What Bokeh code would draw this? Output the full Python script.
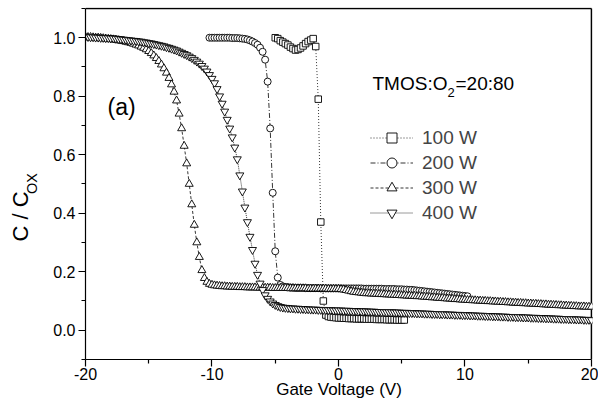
from bokeh.plotting import figure
from bokeh.models import (Range1d, Label, Legend, LegendItem, FixedTicker,
                          PrintfTickFormatter, Title)
from bokeh.embed import file_html
from bokeh.resources import INLINE

FONT = "Liberation Sans"

# ---------------- data ----------------
v_full = [
    -20.0, -19.8, -19.6, -19.4, -19.2, -19.0, -18.8, -18.6, -18.4, -18.2,
    -18.0, -17.8, -17.6, -17.4, -17.2, -17.0, -16.8, -16.6, -16.4, -16.2,
    -16.0, -15.8, -15.6, -15.4, -15.2, -15.0, -14.8, -14.6, -14.4, -14.2,
    -14.0, -13.8, -13.6, -13.4, -13.2, -13.0, -12.8, -12.6, -12.4, -12.2,
    -12.0, -11.8, -11.6, -11.4, -11.2, -11.0, -10.8, -10.6, -10.4, -10.2,
    -10.0, -9.8, -9.6, -9.4, -9.2, -9.0, -8.8, -8.6, -8.4, -8.2,
    -8.0, -7.8, -7.6, -7.4, -7.2, -7.0, -6.8, -6.6, -6.4, -6.2,
    -6.0, -5.8, -5.6, -5.4, -5.2, -5.0, -4.8, -4.6, -4.4, -4.2,
    -4.0, -3.8, -3.6, -3.4, -3.2, -3.0, -2.8, -2.6, -2.4, -2.2,
    -2.0, -1.8, -1.6, -1.4, -1.2, -1.0, -0.8, -0.6, -0.4, -0.2,
    0.0, 0.2, 0.4, 0.6, 0.8, 1.0, 1.2, 1.4, 1.6, 1.8,
    2.0, 2.2, 2.4, 2.6, 2.8, 3.0, 3.2, 3.4, 3.6, 3.8,
    4.0, 4.2, 4.4, 4.6, 4.8, 5.0, 5.2, 5.4, 5.6, 5.8,
    6.0, 6.2, 6.4, 6.6, 6.8, 7.0, 7.2, 7.4, 7.6, 7.8,
    8.0, 8.2, 8.4, 8.6, 8.8, 9.0, 9.2, 9.4, 9.6, 9.8,
    10.0, 10.2, 10.4, 10.6, 10.8, 11.0, 11.2, 11.4, 11.6, 11.8,
    12.0, 12.2, 12.4, 12.6, 12.8, 13.0, 13.2, 13.4, 13.6, 13.8,
    14.0, 14.2, 14.4, 14.6, 14.8, 15.0, 15.2, 15.4, 15.6, 15.8,
    16.0, 16.2, 16.4, 16.6, 16.8, 17.0, 17.2, 17.4, 17.6, 17.8,
    18.0, 18.2, 18.4, 18.6, 18.8, 19.0, 19.2, 19.4, 19.6, 19.8,
    20.0,
]

c_300w = [
    1.003, 1.002, 1.002, 1.001, 1.000, 1.000, 0.999, 0.998, 0.997, 0.996,
    0.995, 0.994, 0.993, 0.991, 0.990, 0.988, 0.986, 0.984, 0.982, 0.979,
    0.976, 0.973, 0.969, 0.965, 0.960, 0.954, 0.947, 0.939, 0.930, 0.920,
    0.908, 0.895, 0.880, 0.862, 0.840, 0.815, 0.785, 0.740, 0.690, 0.630,
    0.570, 0.500, 0.430, 0.360, 0.300, 0.250, 0.205, 0.178, 0.165, 0.158,
    0.155, 0.153, 0.152, 0.151, 0.150, 0.150, 0.149, 0.149, 0.148, 0.148,
    0.148, 0.147, 0.147, 0.147, 0.146, 0.146, 0.146, 0.146, 0.145, 0.145,
    0.145, 0.145, 0.145, 0.145, 0.144, 0.144, 0.144, 0.144, 0.144, 0.144,
    0.144, 0.143, 0.143, 0.143, 0.143, 0.143, 0.143, 0.143, 0.142, 0.142,
    0.142, 0.142, 0.142, 0.142, 0.142, 0.142, 0.141, 0.141, 0.141, 0.141,
    0.141, 0.140, 0.139, 0.137, 0.135, 0.133, 0.131, 0.130, 0.129, 0.128,
    0.127, 0.126, 0.126, 0.125, 0.125, 0.124, 0.124, 0.123, 0.123, 0.122,
    0.122, 0.121, 0.121, 0.120, 0.120, 0.119, 0.119, 0.118, 0.118, 0.117,
    0.117, 0.116, 0.116, 0.115, 0.114, 0.114, 0.113, 0.112, 0.112, 0.111,
    0.110, 0.110, 0.109, 0.108, 0.108, 0.107, 0.106, 0.106, 0.105, 0.104,
    0.104, 0.103, 0.103, 0.102, 0.102, 0.101, 0.101, 0.100, 0.100, 0.099,
    0.099, 0.098, 0.098, 0.097, 0.097, 0.096, 0.096, 0.095, 0.095, 0.094,
    0.094, 0.093, 0.093, 0.092, 0.092, 0.091, 0.091, 0.090, 0.090, 0.089,
    0.089, 0.088, 0.088, 0.087, 0.087, 0.086, 0.086, 0.085, 0.085, 0.084,
    0.084, 0.083, 0.083, 0.082, 0.082, 0.081, 0.081, 0.081, 0.080, 0.080,
    0.080,
]

c_400w = [
    1.003, 1.003, 1.002, 1.002, 1.001, 1.001, 1.000, 1.000, 0.999, 0.999,
    0.998, 0.998, 0.997, 0.996, 0.995, 0.994, 0.993, 0.992, 0.991, 0.990,
    0.989, 0.988, 0.987, 0.985, 0.984, 0.982, 0.981, 0.979, 0.977, 0.975,
    0.973, 0.971, 0.968, 0.966, 0.963, 0.960, 0.957, 0.953, 0.949, 0.945,
    0.941, 0.936, 0.931, 0.925, 0.919, 0.912, 0.904, 0.895, 0.885, 0.873,
    0.860, 0.845, 0.825, 0.800, 0.775, 0.748, 0.720, 0.690, 0.660, 0.625,
    0.585, 0.530, 0.475, 0.420, 0.370, 0.320, 0.275, 0.228, 0.190, 0.160,
    0.138, 0.120, 0.108, 0.099, 0.092, 0.087, 0.083, 0.080, 0.078, 0.077,
    0.076, 0.075, 0.075, 0.074, 0.074, 0.073, 0.073, 0.072, 0.072, 0.071,
    0.071, 0.071, 0.070, 0.070, 0.070, 0.069, 0.069, 0.069, 0.068, 0.068,
    0.068, 0.068, 0.067, 0.067, 0.067, 0.066, 0.066, 0.066, 0.065, 0.065,
    0.065, 0.065, 0.064, 0.064, 0.064, 0.063, 0.063, 0.063, 0.062, 0.062,
    0.062, 0.062, 0.061, 0.061, 0.061, 0.060, 0.060, 0.060, 0.059, 0.059,
    0.059, 0.058, 0.058, 0.058, 0.057, 0.057, 0.057, 0.056, 0.056, 0.056,
    0.055, 0.055, 0.055, 0.054, 0.054, 0.054, 0.053, 0.053, 0.053, 0.052,
    0.052, 0.052, 0.051, 0.051, 0.051, 0.050, 0.050, 0.050, 0.049, 0.049,
    0.049, 0.048, 0.048, 0.048, 0.047, 0.047, 0.047, 0.046, 0.046, 0.046,
    0.045, 0.045, 0.045, 0.044, 0.044, 0.044, 0.043, 0.043, 0.043, 0.042,
    0.042, 0.042, 0.041, 0.041, 0.041, 0.040, 0.040, 0.040, 0.039, 0.039,
    0.039, 0.038, 0.038, 0.038, 0.037, 0.037, 0.037, 0.036, 0.036, 0.036,
    0.035,
]

v_200 = [
    -10.2, -10.0, -9.8, -9.6, -9.4, -9.2, -9.0, -8.8, -8.6, -8.4,
    -8.2, -8.0, -7.8, -7.6, -7.4, -7.2, -7.0, -6.8, -6.6, -6.4,
    -6.2, -6.0, -5.8, -5.6, -5.4, -5.2, -5.0, -4.8, -4.6, -4.4,
    -4.2, -4.0, -3.8, -3.6, -3.4, -3.2, -3.0, -2.8, -2.6, -2.4,
    -2.2, -2.0, -1.8, -1.6, -1.4, -1.2, -1.0, -0.8, -0.6, -0.4,
    -0.2, 0.0, 0.2, 0.4, 0.6, 0.8, 1.0, 1.2, 1.4, 1.6,
    1.8, 2.0, 2.2, 2.4, 2.6, 2.8, 3.0, 3.2, 3.4, 3.6,
    3.8, 4.0, 4.2, 4.4, 4.6, 4.8, 5.0, 5.2, 5.4, 5.6,
    5.8, 6.0, 6.2, 6.4, 6.6, 6.8, 7.0, 7.2, 7.4, 7.6,
    7.8, 8.0, 8.2, 8.4, 8.6, 8.8, 9.0, 9.2, 9.4, 9.6,
    9.8, 10.0, 10.2,
]

c_200w = [
    1.000, 1.000, 1.000, 1.000, 1.000, 1.000, 1.000, 1.000, 1.000, 0.999,
    0.999, 0.999, 0.998, 0.997, 0.996, 0.994, 0.991, 0.987, 0.982, 0.976,
    0.966, 0.952, 0.925, 0.850, 0.690, 0.470, 0.270, 0.180, 0.155, 0.150,
    0.148, 0.147, 0.146, 0.146, 0.145, 0.145, 0.145, 0.145, 0.144, 0.144,
    0.144, 0.144, 0.144, 0.144, 0.143, 0.143, 0.143, 0.143, 0.143, 0.143,
    0.143, 0.143, 0.143, 0.143, 0.143, 0.143, 0.143, 0.143, 0.143, 0.143,
    0.143, 0.142, 0.142, 0.142, 0.142, 0.142, 0.142, 0.142, 0.142, 0.141,
    0.141, 0.141, 0.141, 0.141, 0.140, 0.140, 0.140, 0.139, 0.139, 0.138,
    0.138, 0.137, 0.136, 0.135, 0.134, 0.133, 0.132, 0.131, 0.130, 0.129,
    0.128, 0.127, 0.126, 0.125, 0.124, 0.123, 0.122, 0.121, 0.120, 0.119,
    0.118, 0.117, 0.116,
]

v_100 = [
    -5.0, -4.8, -4.6, -4.4, -4.2, -4.0, -3.8, -3.6, -3.4, -3.2,
    -3.0, -2.8, -2.6, -2.4, -2.2, -2.0, -1.8, -1.6, -1.4, -1.2,
    -1.0, -0.8, -0.6, -0.4, -0.2, 0.0, 0.2, 0.4, 0.6, 0.8,
    1.0, 1.2, 1.4, 1.6, 1.8, 2.0, 2.2, 2.4, 2.6, 2.8,
    3.0, 3.2, 3.4, 3.6, 3.8, 4.0, 4.2, 4.4, 4.6, 4.8,
    5.0, 5.2,
]

c_100w = [
    1.000, 0.997, 0.990, 0.985, 0.980, 0.975, 0.968, 0.963, 0.958, 0.960,
    0.965, 0.972, 0.980, 0.987, 0.992, 0.997, 0.970, 0.790, 0.370, 0.100,
    0.052, 0.047, 0.045, 0.044, 0.043, 0.042, 0.042, 0.041, 0.041, 0.040,
    0.040, 0.040, 0.039, 0.039, 0.039, 0.039, 0.038, 0.038, 0.038, 0.038,
    0.037, 0.037, 0.037, 0.037, 0.036, 0.036, 0.036, 0.036, 0.035, 0.035,
    0.035, 0.035,
]

x_ticks = [-20, -10, 0, 10, 20]
x_minor = [-15, -5, 5, 15]
y_ticks = [0.0, 0.2, 0.4, 0.6, 0.8, 1.0]
y_minor = [-0.1, 0.1, 0.3, 0.5, 0.7, 0.9, 1.1]
x_lo, x_hi = -20, 20
y_lo, y_hi = -0.1, 1.1

series = [
    ("100 W", v_100, c_100w, "square", 6.5, "1 2"),
    ("200 W", v_200, c_200w, "circle", 7, "5 2 1 2"),
    ("300 W", v_full, c_300w, "triangle", 8, "3 2"),
    ("400 W", v_full, c_400w, "inverted_triangle", 8, "1 1"),
]

# ---------------- figure ----------------
# ranges reach one pixel past the box edges so the box lines at 20 V and 1.1 stay inside the frame
p = figure(width=598, height=401, output_backend="svg", toolbar_location=None,
           x_range=Range1d(x_lo, x_hi + 0.08), y_range=Range1d(y_lo, y_hi + 0.0034),
           min_border_left=85, min_border_right=6, min_border_top=7, min_border_bottom=41)
p.background_fill_color = "white"
p.border_fill_color = "white"
p.outline_line_color = None
p.grid.visible = False

for ax in (p.xaxis[0], p.yaxis[0]):
    ax.axis_line_width = 1.2
    ax.major_tick_line_width = 1.2
    ax.minor_tick_line_width = 1.2
    ax.major_tick_in = 0
    ax.major_tick_out = 7
    ax.minor_tick_in = 0
    ax.minor_tick_out = 4
    ax.major_label_text_font = FONT
    ax.major_label_text_font_size = "16px"
    ax.major_label_text_color = "black"
    ax.axis_label_text_font = FONT
    ax.axis_label_text_font_style = "normal"
    ax.axis_label_text_color = "black"

p.xaxis.bounds = (x_lo, x_hi)
p.yaxis.bounds = (y_lo, y_hi)
p.xaxis.ticker = FixedTicker(ticks=x_ticks, minor_ticks=x_minor)
p.yaxis.ticker = FixedTicker(ticks=y_ticks, minor_ticks=y_minor)
p.xaxis.formatter = PrintfTickFormatter(format="%d")
p.yaxis.formatter = PrintfTickFormatter(format="%.1f")

p.xaxis.major_label_standoff = 1
p.xaxis.axis_label = "Gate Voltage (V)"
p.xaxis.axis_label_text_font_size = "17px"
p.xaxis.axis_label_standoff = -3

p.yaxis.major_label_standoff = 3
p.yaxis.axis_label = "OX"
p.yaxis.axis_label_text_font_size = "14.5px"
p.yaxis.axis_label_standoff = 10

# main part of the y title, just outside the subscript
p.add_layout(Title(text="C / C", text_font=FONT, text_font_size="22px",
                   text_font_style="normal", text_color="black",
                   align="left", vertical_align="bottom", offset=118,
                   standoff=-23), "left")

# top and right edges of the axis box, drawn at the axis limits
p.line([x_lo, x_hi], [y_hi, y_hi], line_color="black", line_width=1.6)
p.line([x_hi, x_hi], [y_lo, y_hi], line_color="black", line_width=1.6)

items = []
for label, xs, ys, marker, size, dash in series:
    lr = p.line(xs, ys, line_color="black", line_width=0.8, line_dash=dash)
    sr = p.scatter(xs, ys, marker=marker, size=size, line_color="black",
                   line_width=0.9, fill_color="white")
    items.append(LegendItem(label=label, renderers=[lr, sr]))

legend = Legend(items=items, location=(285, 134), orientation="vertical",
                border_line_color=None, background_fill_alpha=0,
                padding=0, margin=0, spacing=0,
                glyph_width=43, glyph_height=25, label_height=25,
                label_standoff=9, label_text_font=FONT,
                label_text_font_size="19px")
p.add_layout(legend, "center")

def add_label(text, x, y, size, align="left", baseline="middle"):
    p.add_layout(Label(x=x, y=y, x_units="screen", y_units="screen", text=text,
                       text_font=FONT, text_font_size=size, text_color="black",
                       text_align=align, text_baseline=baseline))

# annotations (screen units, relative to the plot frame)
add_label("(a)", 22, 253, "23px")
add_label("TMOS:O", 287, 276, "19px")
add_label("2", 362, 267, "13px")
add_label("=20:80", 370, 276, "19px")

open("out.html", "w").write(file_html(p, INLINE))
